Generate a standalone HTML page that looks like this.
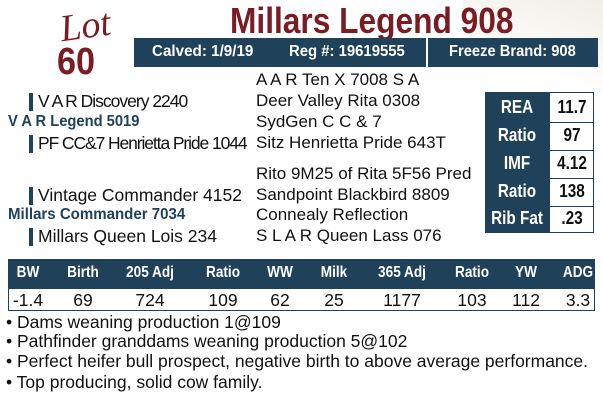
<!DOCTYPE html>
<html><head><meta charset="utf-8"><style>
body{margin:0;width:603px;height:400px;background:#fff;position:relative;overflow:hidden;font-family:"Liberation Sans",sans-serif;}
.a{position:absolute;white-space:nowrap;}
.n{font-family:"Liberation Sans",sans-serif;font-weight:bold;}
.p{font-size:17.5px;color:#111;line-height:20px;}
.q{font-size:17px;color:#111;line-height:20px;}
.bar{position:absolute;left:29px;width:4px;height:18px;background:#1f4159;}
.hd{position:absolute;background:#1f4159;color:#fff;}
.c{position:absolute;text-align:center;transform:translateX(-50%);white-space:nowrap;}
.cn{position:absolute;text-align:center;transform:translateX(-50%) scaleX(0.85);white-space:nowrap;}
</style></head><body>
<div style="position:absolute;right:0;top:0;width:140px;height:90px;background:linear-gradient(200deg,#f1eee6,#fff 70%);"></div>
<div class="a" style="left:60px;top:4px;font-family:'Liberation Serif',serif;font-style:italic;font-size:38px;color:#7a1c24;transform:rotate(-8deg);">Lot</div>
<div class="a n" style="left:57px;top:41px;font-size:38px;color:#7a1c24;transform:scaleX(0.9);transform-origin:left;">60</div>
<div class="a n" style="left:230px;top:0px;font-size:36px;color:#7a1c24;transform:scaleX(0.88);transform-origin:left;">Millars Legend 908</div>
<div class="hd" style="left:134px;top:38px;width:464px;height:29px;"></div>
<div style="position:absolute;left:426px;top:38px;width:2px;height:29px;background:#fff"></div>
<div class="a n" style="left:152px;top:43px;font-size:16px;color:#fff;transform:scaleX(0.95);transform-origin:left;">Calved: 1/9/19</div>
<div class="a n" style="left:289px;top:43px;font-size:16px;color:#fff;transform:scaleX(0.93);transform-origin:left;">Reg #: 19619555</div>
<div class="a n" style="left:449px;top:43px;font-size:16px;color:#fff;transform:scaleX(0.92);transform-origin:left;">Freeze Brand: 908</div>

<div class="bar" style="top:93px"></div><div class="bar" style="top:135px"></div><div class="bar" style="top:187px"></div><div class="bar" style="top:228px"></div>
<div class="a p" style="left:38px;top:91px;letter-spacing:-1px">V A R Discovery 2240</div>
<div class="a n" style="left:8px;top:113px;font-size:16px;color:#1f4159;transform:scaleX(0.92);transform-origin:left;">V A R Legend 5019</div>
<div class="a p" style="left:38px;top:133px;letter-spacing:-1.1px">PF CC&amp;7 Henrietta Pride 1044</div>
<div class="a p" style="left:38px;top:185px">Vintage Commander 4152</div>
<div class="a n" style="left:8px;top:206px;font-size:16px;color:#1f4159;transform:scaleX(0.94);transform-origin:left;">Millars Commander 7034</div>
<div class="a p" style="left:38px;top:226px">Millars Queen Lois 234</div>

<div class="a q" style="left:256px;top:70px">A A R Ten X 7008 S A</div>
<div class="a q" style="left:256px;top:91px">Deer Valley Rita 0308</div>
<div class="a q" style="left:256px;top:112px">SydGen C C &amp; 7</div>
<div class="a q" style="left:256px;top:133px">Sitz Henrietta Pride 643T</div>
<div class="a q" style="left:256px;top:164px">Rito 9M25 of Rita 5F56 Pred</div>
<div class="a q" style="left:256px;top:185px">Sandpoint Blackbird 8809</div>
<div class="a q" style="left:256px;top:205px">Connealy Reflection</div>
<div class="a q" style="left:256px;top:226px">S L A R Queen Lass 076</div>

<div class="hd" style="left:485px;top:92px;width:65px;height:141px;"></div>
<div style="position:absolute;left:550px;top:92px;width:43px;height:139px;border:1px solid #1f4159;border-left:none;"></div>
<div style="position:absolute;left:550px;top:122px;width:44px;height:1px;background:#1f4159"></div>
<div style="position:absolute;left:550px;top:150px;width:44px;height:1px;background:#1f4159"></div>
<div style="position:absolute;left:550px;top:178px;width:44px;height:1px;background:#1f4159"></div>
<div style="position:absolute;left:550px;top:206px;width:44px;height:1px;background:#1f4159"></div>
<div class="cn n" style="left:517px;top:97px;font-size:18px;color:#fff">REA</div>
<div class="cn n" style="left:517px;top:125px;font-size:18px;color:#fff">Ratio</div>
<div class="cn n" style="left:517px;top:153px;font-size:18px;color:#fff">IMF</div>
<div class="cn n" style="left:517px;top:181px;font-size:18px;color:#fff">Ratio</div>
<div class="cn n" style="left:517px;top:208px;font-size:18px;color:#fff">Rib Fat</div>
<div class="cn n" style="left:572px;top:97px;font-size:18px;color:#111">11.7</div>
<div class="cn n" style="left:572px;top:125px;font-size:18px;color:#111">97</div>
<div class="cn n" style="left:572px;top:153px;font-size:18px;color:#111">4.12</div>
<div class="cn n" style="left:572px;top:181px;font-size:18px;color:#111">138</div>
<div class="cn n" style="left:572px;top:208px;font-size:18px;color:#111">.23</div>

<div class="hd" style="left:8px;top:259px;width:587px;height:30px;"></div>
<div style="position:absolute;left:8px;top:289px;width:585px;height:21px;border:1px solid #1f4159;border-top:none;"></div>
<div class="cn n" style="left:28px;top:264px;font-size:16px;color:#fff">BW</div>
<div class="cn n" style="left:83px;top:264px;font-size:16px;color:#fff">Birth</div>
<div class="cn n" style="left:150px;top:264px;font-size:16px;color:#fff">205 Adj</div>
<div class="cn n" style="left:223px;top:264px;font-size:16px;color:#fff">Ratio</div>
<div class="cn n" style="left:280px;top:264px;font-size:16px;color:#fff">WW</div>
<div class="cn n" style="left:334px;top:264px;font-size:16px;color:#fff">Milk</div>
<div class="cn n" style="left:402px;top:264px;font-size:16px;color:#fff">365 Adj</div>
<div class="cn n" style="left:472px;top:264px;font-size:16px;color:#fff">Ratio</div>
<div class="cn n" style="left:526px;top:264px;font-size:16px;color:#fff">YW</div>
<div class="cn n" style="left:578px;top:264px;font-size:16px;color:#fff">ADG</div>
<div class="c p" style="left:28px;top:290px">-1.4</div>
<div class="c p" style="left:83px;top:290px">69</div>
<div class="c p" style="left:150px;top:290px">724</div>
<div class="c p" style="left:223px;top:290px">109</div>
<div class="c p" style="left:280px;top:290px">62</div>
<div class="c p" style="left:334px;top:290px">25</div>
<div class="c p" style="left:402px;top:290px">1177</div>
<div class="c p" style="left:472px;top:290px">103</div>
<div class="c p" style="left:526px;top:290px">112</div>
<div class="c p" style="left:578px;top:290px">3.3</div>

<div class="a p" style="left:6px;top:312px">• Dams weaning production 1@109</div>
<div class="a p" style="left:6px;top:331px">• Pathfinder granddams weaning production 5@102</div>
<div class="a p" style="left:6px;top:351px">• Perfect heifer bull prospect, negative birth to above average performance.</div>
<div class="a p" style="left:6px;top:372px">• Top producing, solid cow family.</div>
</body></html>
